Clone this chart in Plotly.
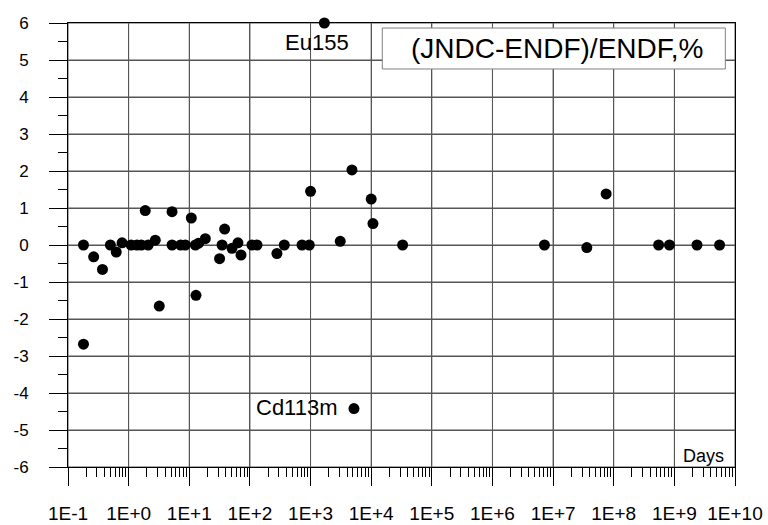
import plotly.graph_objects as go

# Decay time (days) and (JNDC-ENDF)/ENDF difference in %
days = [0.18, 0.18, 0.265, 0.37, 0.5, 0.625, 0.78, 1.1, 1.37, 1.62, 1.88, 2.1, 2.75,
        3.2, 5.2, 5.2, 7.2, 8.6, 10.8, 12.6, 12.9, 14.3, 18.4, 31.6, 34.7, 38.3,
        50.6, 63.5, 71.3, 108, 131, 279, 369, 723, 953, 1000, 3090, 4820, 10000,
        10700, 33000, 7.2e6, 3.6e7, 7.5e7, 5.5e8, 8.3e8, 2.36e9, 5.57e9, 1690, 5200]
diff = [0.0, -2.68, -0.32, -0.66, 0.0, -0.19, 0.06, 0.0, 0.0, 0.0, 0.93, 0.0, 0.13,
        -1.65, 0.9, 0.0, 0.0, 0.0, 0.73, 0.0, -1.36, 0.05, 0.17, -0.37, 0.0, 0.43,
        -0.09, 0.06, -0.27, 0.0, 0.0, -0.23, 0.0, 0.0, 0.0, 1.45, 0.1, 2.03, 1.24,
        0.58, 0.0, 0.0, -0.07, 1.38, 0.0, 0.0, 0.0, 0.0, 6.0, -4.42]

x_tickvals = [10.0 ** k for k in range(-1, 11)]
x_ticktext = ["1E-1", "1E+0", "1E+1", "1E+2", "1E+3", "1E+4", "1E+5",
              "1E+6", "1E+7", "1E+8", "1E+9", "1E+10"]
y_tickvals = list(range(-6, 7))
y_ticktext = [str(v) for v in y_tickvals]

FONT = "Liberation Sans, Arial, sans-serif"
GRID = "#555555"

fig = go.Figure()
fig.add_trace(go.Scatter(
    x=days, y=diff, mode="markers",
    marker=dict(size=11, color="black"),
    cliponaxis=False, showlegend=False, hoverinfo="x+y"))

fig.update_layout(
    width=768, height=525,
    margin=dict(l=68, r=33, t=23, b=58, autoexpand=False),
    paper_bgcolor="white", plot_bgcolor="white",
    font=dict(family=FONT, color="black"),
    xaxis=dict(
        type="log", range=[-1, 10], automargin=False,
        tickmode="array", tickvals=x_tickvals, ticktext=x_ticktext,
        ticks="outside", ticklen=18, tickcolor="black", tickwidth=1,
        tickfont=dict(size=19, family=FONT),
        ticklabelstandoff=11,
        showgrid=True, gridcolor=GRID, gridwidth=1,
        showline=True, linecolor="black", linewidth=1, mirror=True,
        zeroline=False,
        minor=dict(dtick="D1", ticks="outside", ticklen=9,
                   tickcolor="black", tickwidth=1, showgrid=False),
    ),
    yaxis=dict(
        range=[-6, 6], automargin=False,
        tickmode="array", tickvals=y_tickvals, ticktext=y_ticktext,
        ticks="outside", ticklen=18, tickcolor="black", tickwidth=1,
        tickfont=dict(size=17, family=FONT),
        ticklabelstandoff=17,
        showgrid=True, gridcolor=GRID, gridwidth=1,
        showline=True, linecolor="black", linewidth=1, mirror=True,
        zeroline=False,
        minor=dict(dtick=0.5, ticks="outside", ticklen=9,
                   tickcolor="black", tickwidth=1, showgrid=False),
    ),
)

# Grid lines at the major tick values (drawn beneath the data)
for xv in x_tickvals:
    fig.add_shape(type="line", xref="x", yref="paper", x0=xv, x1=xv, y0=0, y1=1,
                  line=dict(color=GRID, width=1), layer="below")
for yv in y_tickvals:
    fig.add_shape(type="line", xref="paper", yref="y", x0=0, x1=1, y0=yv, y1=yv,
                  line=dict(color=GRID, width=1), layer="below")

# Legend-like title box
fig.add_shape(type="rect", xref="paper", yref="paper",
              x0=0.4712, x1=0.9855, y0=0.8964, y1=0.9887,
              line=dict(color="#808080", width=1), fillcolor="white", layer="above")
fig.add_annotation(xref="paper", yref="paper", x=0.7336, y=0.9426,
                   text="(JNDC-ENDF)/ENDF,%", showarrow=False,
                   font=dict(size=28, family=FONT, color="black"),
                   xanchor="center", yanchor="middle")

# Point labels
fig.add_annotation(x=3.106, y=5.46, xref="x", yref="y", text="Eu155",
                   showarrow=False, font=dict(size=22, family=FONT, color="black"),
                   xanchor="center", yanchor="middle")
fig.add_annotation(x=2.773, y=-4.405, xref="x", yref="y", text="Cd113m",
                   showarrow=False, font=dict(size=22, family=FONT, color="black"),
                   xanchor="center", yanchor="middle")
fig.add_annotation(xref="paper", yref="paper", x=0.9535, y=0.0259, text="Days",
                   showarrow=False, font=dict(size=18, family=FONT, color="black"),
                   xanchor="center", yanchor="middle")

fig.write_html("out.html")
